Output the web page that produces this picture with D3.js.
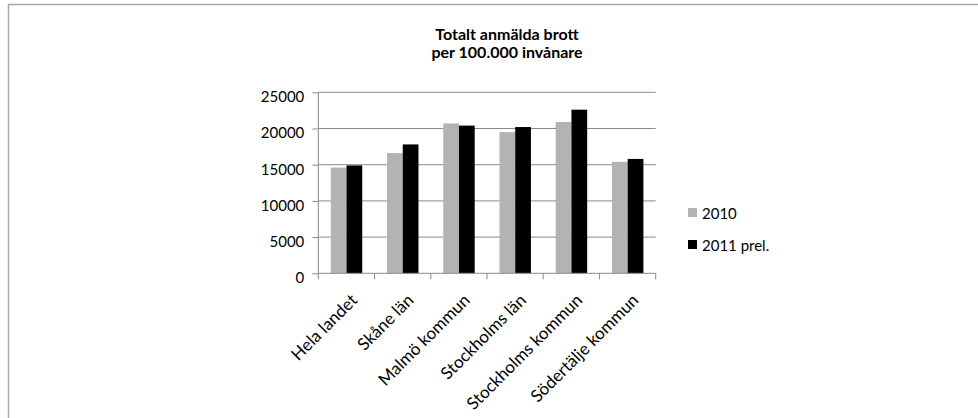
<!DOCTYPE html>
<html><head><meta charset="utf-8">
<script src="https://cdn.jsdelivr.net/npm/d3@7"></script>
<style>html,body{margin:0;padding:0;background:#fff;}svg{display:block;}</style>
</head><body>
<script>
const categories = ["Hela landet","Skåne län","Malmö kommun","Stockholms län","Stockholms kommun","Södertälje kommun"];
const seriesNames = ["2010","2011 prel."];
const values2010 = [14600,16600,20700,19500,20900,15400];
const values2011 = [14900,17800,20400,20200,22600,15800];
const yTicks = [0,5000,10000,15000,20000,25000];
const titleLines = ["Totalt anmälda brott","per 100.000 invånare"];

const W=978,H=418;
const FONT="Lato, 'Open Sans', sans-serif";
const colors=["#b3b3b3","#000000"];
const svg=d3.select("body").append("svg").attr("width",W).attr("height",H);
svg.append("rect").attr("x",8.5).attr("y",4.5).attr("width",980).attr("height",430)
  .attr("fill","#fff").attr("stroke","#a8a8a8").attr("stroke-width",1.5);

const x0=318.3,x1=655.7,yTop=92.3,yBot=273.3;
const x=d3.scaleBand().domain(categories).range([x0,x1]);
const xs=d3.scaleBand().domain(seriesNames).range([12.5,x.bandwidth()-12.3]);
const y=d3.scaleLinear().domain([0,25000]).range([yBot,yTop]);

// gridlines
svg.append("g").selectAll("line").data(yTicks.filter(d=>d>0)).join("line")
  .attr("x1",x0).attr("x2",x1).attr("y1",d=>y(d)).attr("y2",d=>y(d))
  .attr("stroke","#8a8a8a").attr("stroke-width",1);

const data=[values2010,values2011];
const g=svg.append("g");
categories.forEach((c,i)=>{
  seriesNames.forEach((s,j)=>{
    g.append("rect").attr("x",x(c)+xs(s)).attr("width",xs.bandwidth())
     .attr("y",y(data[j][i])).attr("height",yBot-y(data[j][i])).attr("fill",colors[j]);
  });
});

// y axis
const yAxis=d3.axisLeft(y).tickValues(yTicks).tickSize(6).tickPadding(8).tickFormat(d3.format("d"));
const ya=svg.append("g").attr("transform",`translate(${x0},0)`).call(yAxis);
ya.select(".domain").attr("stroke","#8a8a8a").attr("d",`M-0,${yTop}V${yBot}`);
ya.selectAll(".tick line").attr("stroke","#8a8a8a");
ya.selectAll(".tick text").attr("font-family",FONT).attr("font-size",15).attr("fill","#000").attr("dy","0.62em").attr("y",0);

// x axis
const xa=svg.append("g").attr("transform",`translate(0,${yBot})`);
xa.append("line").attr("x1",x0).attr("x2",x1).attr("stroke","#8a8a8a");
const bounds=categories.map(c=>x(c)).concat([x1]);
xa.selectAll("line.t").data(bounds).join("line").attr("class","t")
  .attr("x1",d=>d).attr("x2",d=>d).attr("y1",0).attr("y2",6).attr("stroke","#8a8a8a");
xa.selectAll("text").data(categories).join("text")
  .attr("transform",d=>`translate(${x(d)+x.bandwidth()/2+12},28) rotate(-45)`)
  .attr("text-anchor","end").attr("font-family",FONT).attr("font-size",17).attr("fill","#000").text(d=>d);

// title
svg.append("g").selectAll("text").data(titleLines).join("text")
  .attr("x",507).attr("y",(d,i)=>40+i*18).attr("text-anchor","middle")
  .attr("font-family",FONT).attr("font-weight","bold").attr("font-size",16).attr("fill","#000").text(d=>d);

// legend
const lg=svg.append("g");
seriesNames.forEach((s,j)=>{
  lg.append("rect").attr("x",688).attr("y",208+j*32).attr("width",9).attr("height",9).attr("fill",colors[j]);
  lg.append("text").attr("x",702).attr("y",219.3+j*32).attr("font-family",FONT).attr("font-size",15).attr("fill","#000").text(s);
});
</script>
</body></html>
